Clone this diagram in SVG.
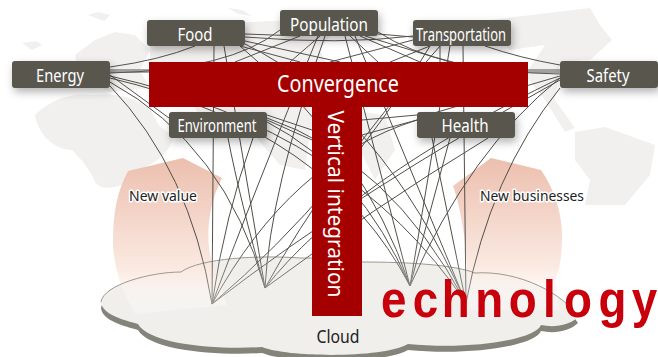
<svg xmlns="http://www.w3.org/2000/svg" width="658" height="357" viewBox="0 0 658 357">
<style>
.land{fill:#f1f0ee}
.n{fill:#59574e;filter:url(#sh)}
.t{font-family:"Noto Sans","Liberation Sans",sans-serif;font-size:18px;fill:#fff;text-anchor:middle}
.l{fill:none;stroke:#55534c;stroke-width:1}
.s{fill:none;stroke:url(#fade);stroke-width:1}
.h{font-family:"Noto Sans","Liberation Sans",sans-serif;font-size:15px;fill:#222;stroke:#fff;stroke-width:3px;paint-order:stroke;stroke-linejoin:round;text-anchor:middle}
.bar{fill:#a50000}
</style>
<defs>
<linearGradient id="pe" x1="0" y1="0" x2="0" y2="1"><stop offset="0" stop-color="#ecbfae"/><stop offset=".72" stop-color="#fbeae2"/><stop offset="1" stop-color="#fff" stop-opacity=".25"/></linearGradient>
<linearGradient id="fade" gradientUnits="userSpaceOnUse" x1="0" y1="240" x2="0" y2="304"><stop offset="0" stop-color="#4f4d47"/><stop offset="1" stop-color="#9a9890"/></linearGradient>
<filter id="sh" x="-20%" y="-30%" width="140%" height="180%"><feDropShadow dx="2" dy="4" stdDeviation="4" flood-color="#000" flood-opacity=".3"/></filter>
</defs>
<rect width="658" height="357" fill="#fff"/>
<g id="map">
<path class="land" d="M35,115C50,100 70,92 95,95C120,92 150,100 157,122C165,135 178,132 172,142C165,158 150,165 135,172L122,185C105,190 100,188 95,182C90,170 82,160 72,150C55,150 38,135 35,115Z"/>
<path class="land" d="M75,55L95,40L115,32L135,35L150,50L140,70L150,88L110,92L88,80L78,70Z"/>
<path class="land" d="M150,40L190,25L250,22L300,20L335,28L320,50L345,105L310,130L305,170L280,165L250,130L215,140L190,100L150,85Z"/>
<path class="land" d="M88,15l10,-3l12,3l-6,6zM22,43l14,-2l6,4l-10,5zM228,8l14,2l10,6l-14,-2z"/>
<path class="land" d="M490,20L590,8L600,25L612,40L590,60L560,62L555,100L575,128L565,132L545,100L525,75L545,45L510,50L495,35Z"/>
<path class="land" d="M575,132L605,127L655,145L650,175L625,205L585,205L590,180L575,160Z"/>
<path class="land" d="M350,110L385,115L395,150L375,180L355,140Z"/>
</g>
<g id="cloud">
<path fill="#85847a" transform="translate(0,6)" d="M101,302C103,285 150,272 181,272C200,258 260,255 300,258C330,258 350,258 362,262C410,262 455,265 475,273C520,270 565,295 578,317C570,325 555,328 541,325C535,340 470,350 408,344C385,358 290,358 262,347C220,350 150,345 138,324C115,318 102,312 101,302Z"/>
<path fill="#f0efec" d="M101,302C103,285 150,272 181,272C200,258 260,255 300,258C330,258 350,258 362,262C410,262 455,265 475,273C520,270 565,295 578,317C570,325 555,328 541,325C535,340 470,350 408,344C385,358 290,358 262,347C220,350 150,345 138,324C115,318 102,312 101,302Z"/>
</g>
<g id="peach">
<path fill="url(#pe)" d="M128,171L183,158L222,178C208,205 205,240 212,262L227,305L135,314C118,285 113,260 113,240C113,210 118,190 128,171Z"/>
<path fill="url(#pe)" d="M453,186L491,158L541,170C555,190 562,215 562,235C562,255 560,270 555,280L560,310L470,310L465,240C462,225 460,205 453,186Z"/>
<path fill="none" stroke="#9b9a90" stroke-width="1" d="M101,302C103,285 150,272 181,272C200,258 260,255 300,258C330,258 350,258 362,262C410,262 455,265 475,273C520,270 565,295 578,317"/>
</g>
<g id="connectors">
<path class="l" d="M110,67Q160,60 195,46"/>
<path class="l" d="M485,46Q520,58 560,65"/>
<path class="l" d="M110,70L560,70"/>
<path class="l" d="M110,72L300,72"/>
<path class="l" d="M110,75L169,118"/>
<path class="l" d="M110,73Q230,70 280,30"/>
<path class="l" d="M560,72L300,72"/>
<path class="l" d="M560,76L417,118"/>
<path class="l" d="M560,74Q440,72 378,32"/>
<path class="l" d="M245,34L300,36"/>
<path class="l" d="M245,37Q340,45 413,36"/>
<path class="l" d="M245,41L340,62"/>
<path class="l" d="M240,46L300,62"/>
<path class="l" d="M300,36L235,62"/>
<path class="l" d="M320,36L290,62"/>
<path class="l" d="M378,34L413,37"/>
<path class="l" d="M350,36L378,62"/>
<path class="l" d="M360,36L420,62"/>
<path class="l" d="M365,36L450,62"/>
<path class="l" d="M413,40L330,62"/>
<path class="l" d="M430,46L390,62"/>
<path class="l" d="M440,46L440,62"/>
<path class="l" d="M267,115L312,130"/>
<path class="l" d="M267,120L312,140"/>
<path class="l" d="M362,120L417,115"/>
<path class="l" d="M362,135L417,120"/>
<path class="s" d="M110,86Q190,170 212,304"/>
<path class="s" d="M214,46L212,304"/>
<path class="s" d="M253,138Q225,215 212,304"/>
<path class="s" d="M318,36Q255,190 212,304"/>
<path class="s" d="M430,46Q345,190 212,304"/>
<path class="s" d="M417,120Q290,160 212,304"/>
<path class="s" d="M560,80Q360,190 212,304"/>
<path class="s" d="M110,82Q225,145 265,288"/>
<path class="s" d="M228,138Q240,200 265,288"/>
<path class="s" d="M224,46L265,288"/>
<path class="s" d="M325,36Q270,190 265,288"/>
<path class="s" d="M440,46Q330,170 265,288"/>
<path class="s" d="M488,138Q370,210 265,288"/>
<path class="s" d="M560,78Q350,180 265,288"/>
<path class="s" d="M110,78Q330,130 410,286"/>
<path class="s" d="M267,122Q360,170 410,286"/>
<path class="s" d="M240,46Q365,150 410,286"/>
<path class="s" d="M345,36L410,286"/>
<path class="s" d="M450,46L410,286"/>
<path class="s" d="M450,138L410,286"/>
<path class="s" d="M560,78Q470,150 410,286"/>
<path class="s" d="M110,76Q350,130 466,303"/>
<path class="s" d="M267,118Q390,160 466,303"/>
<path class="s" d="M245,44Q380,110 466,303"/>
<path class="s" d="M355,36L466,303"/>
<path class="s" d="M463,46L466,303"/>
<path class="s" d="M432,138L466,303"/>
<path class="s" d="M560,88Q490,175 466,303"/>
</g>
<g id="bars">
<rect class="bar" x="149" y="62" width="379" height="45"/>
<rect class="bar" x="312" y="107" width="50" height="209"/>
</g>
<g id="convergence"><text x="338" y="92" style="font-family:'Noto Sans','Liberation Sans',sans-serif;font-size:23px;fill:#fff;text-anchor:middle" textLength="122" lengthAdjust="spacingAndGlyphs">Convergence</text></g>
<g id="vertical"><text transform="translate(328,204) rotate(90)" style="font-family:'Noto Sans','Liberation Sans',sans-serif;font-size:22px;fill:#fff;text-anchor:middle" textLength="187" lengthAdjust="spacingAndGlyphs">Vertical integration</text></g>
<g id="food"><rect class="n" x="147" y="20" width="98" height="26" rx="3"/><text class="t" x="195" y="41" textLength="35" lengthAdjust="spacingAndGlyphs">Food</text></g>
<g id="population"><rect class="n" x="280" y="10" width="98" height="26" rx="3"/><text class="t" x="329" y="31" textLength="78" lengthAdjust="spacingAndGlyphs">Population</text></g>
<g id="transportation"><rect class="n" x="413" y="20" width="98" height="26" rx="3"/><text class="t" x="461" y="41" textLength="90" lengthAdjust="spacingAndGlyphs">Transportation</text></g>
<g id="energy"><rect class="n" x="12" y="61" width="98" height="27" rx="3"/><text class="t" x="60" y="82" textLength="48" lengthAdjust="spacingAndGlyphs">Energy</text></g>
<g id="safety"><rect class="n" x="560" y="61" width="98" height="27" rx="3"/><text class="t" x="608" y="82" textLength="43" lengthAdjust="spacingAndGlyphs">Safety</text></g>
<g id="environment"><rect class="n" x="169" y="112" width="98" height="26" rx="3"/><text class="t" x="217" y="132" textLength="79" lengthAdjust="spacingAndGlyphs">Environment</text></g>
<g id="health"><rect class="n" x="417" y="112" width="98" height="26" rx="3"/><text class="t" x="465" y="132" textLength="47" lengthAdjust="spacingAndGlyphs">Health</text></g>
<text class="h" x="163" y="201" textLength="68" lengthAdjust="spacingAndGlyphs">New value</text>
<text class="h" x="532" y="201" textLength="104" lengthAdjust="spacingAndGlyphs">New businesses</text>
<text x="338" y="343" style="font-family:'Noto Sans','Liberation Sans',sans-serif;font-size:18px;fill:#222;text-anchor:middle" textLength="43" lengthAdjust="spacingAndGlyphs">Cloud</text>
<text transform="scale(.88,1)" x="433 469 502 540 578 617 641 680 718" y="317" style="font-family:'Liberation Sans',sans-serif;font-weight:700;font-size:52px;fill:#c8000b">echnology</text>
</svg>
